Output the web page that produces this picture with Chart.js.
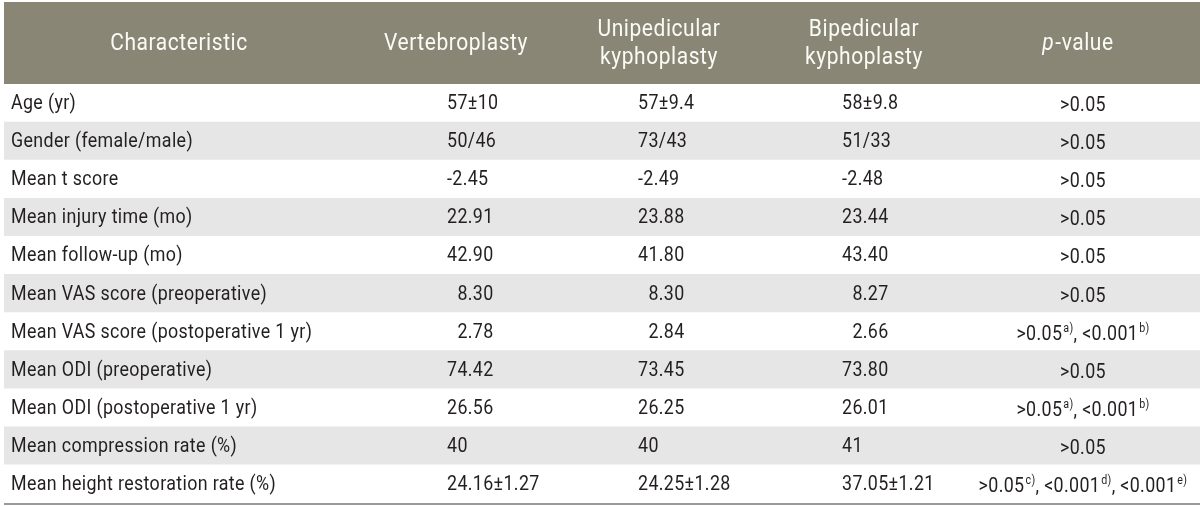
<!DOCTYPE html>
<html>
<head>
<meta charset="utf-8">
<script src="https://cdn.jsdelivr.net/npm/chart.js@4/dist/chart.umd.min.js"></script>
<style>
  html, body { margin: 0; padding: 0; background: #fff; }
  .table-box { position: relative; width: 1200px; height: 506px; }
</style>
</head>
<body>
<div class="table-box"><canvas id="tableChart"></canvas></div>
<script>
// table contents
const characteristics = [
    'Age (yr)',
    'Gender (female/male)',
    'Mean t score',
    'Mean injury time (mo)',
    'Mean follow-up (mo)',
    'Mean VAS score (preoperative)',
    'Mean VAS score (postoperative 1 yr)',
    'Mean ODI (preoperative)',
    'Mean ODI (postoperative 1 yr)',
    'Mean compression rate (%)',
    'Mean height restoration rate (%)'
];
const vertebroplasty = ['57±10', '50/46', '-2.45', '22.91', '42.90', '8.30', '2.78', '74.42', '26.56', '40', '24.16±1.27'];
const unipedicular   = ['57±9.4', '73/43', '-2.49', '23.88', '41.80', '8.30', '2.84', '73.45', '26.25', '40', '24.25±1.28'];
const bipedicular    = ['58±9.8', '51/33', '-2.48', '23.44', '43.40', '8.27', '2.66', '73.80', '26.01', '41', '37.05±1.21'];
// p-values: list of [text, superscript]
const pValues = [
    [['>0.05', '']],
    [['>0.05', '']],
    [['>0.05', '']],
    [['>0.05', '']],
    [['>0.05', '']],
    [['>0.05', '']],
    [['>0.05', 'a)'], [', <0.001', 'b)']],
    [['>0.05', '']],
    [['>0.05', 'a)'], [', <0.001', 'b)']],
    [['>0.05', '']],
    [['>0.05', 'c)'], [', <0.001', 'd)'], [', <0.001', 'e)']]
];
const columnHeaders = [
    ['Characteristic'],
    ['Vertebroplasty'],
    ['Unipedicular', 'kyphoplasty'],
    ['Bipedicular', 'kyphoplasty'],
    ['p-value']
];

// layout (x in table units, 0..1196)
const TABLE_W = 1196;
const colHeadX = [175, 452, 655, 860, 1074];
const colDataX = [7, 443, 634, 838, 1079];
const HEAD_BG = '#8a8675';
const STRIPE = '#e6e6e6';
const INK = '#231f20';
const FONT = 'Roboto, "Liberation Sans", sans-serif';
const BODY = '20px ' + FONT;
const SUP = '12px ' + FONT;
const HEAD = '23px ' + FONT;

// draw text squeezed horizontally (the original uses a condensed face)
function squeezed(ctx, txt, x, y, sx) {
    ctx.save();
    ctx.translate(x, y);
    ctx.scale(sx, 1);
    ctx.fillText(txt, 0, 0);
    ctx.restore();
    return ctx.measureText(txt).width * sx;
}

const tablePlugin = {
    id: 'tableText',
    beforeDatasetsDraw(chart) {
        const { ctx, chartArea } = chart;
        ctx.save();
        ctx.fillStyle = HEAD_BG;
        ctx.fillRect(chartArea.left, 2, chartArea.right - chartArea.left, chartArea.top - 2);
        ctx.restore();
    },
    afterDatasetsDraw(chart) {
        const { ctx, chartArea } = chart;
        const xs = chart.scales.x, ys = chart.scales.y;
        ctx.save();

        // header
        ctx.letterSpacing = '0.6px';
        ctx.font = HEAD;
        const hs = 144 / ctx.measureText('Vertebroplasty').width;
        ctx.fillStyle = '#fbfbf6';
        ctx.textBaseline = 'middle';
        const midHead = (2 + chartArea.top) / 2 + 1;
        columnHeaders.forEach((lines, c) => {
            const x = xs.getPixelForValue(colHeadX[c]);
            lines.forEach((txt, li) => {
                const y = lines.length === 1 ? midHead : midHead + (li - 0.5) * 28;
                if (txt.startsWith('p-')) {
                    ctx.textAlign = 'left';
                    ctx.font = 'italic ' + HEAD;
                    const w1 = ctx.measureText('p').width * hs;
                    ctx.font = HEAD;
                    const w2 = ctx.measureText(txt.slice(1)).width * hs;
                    const sx = x - (w1 + w2 + 1) / 2;
                    ctx.font = 'italic ' + HEAD;
                    squeezed(ctx, 'p', sx, y, hs);
                    ctx.font = HEAD;
                    squeezed(ctx, txt.slice(1), sx + w1 + 1, y, hs);
                } else {
                    ctx.textAlign = 'center';
                    ctx.font = HEAD;
                    squeezed(ctx, txt, x, y, hs);
                }
            });
        });

        // body
        ctx.fillStyle = INK;
        ctx.letterSpacing = '0.4px';
        ctx.font = BODY;
        const bs = 265 / ctx.measureText('Mean height restoration rate (%)').width;
        const digitW = ctx.measureText('0').width * bs;
        characteristics.forEach((label, i) => {
            const y = ys.getPixelForValue(i) + 1;
            ctx.textAlign = 'left';
            ctx.textBaseline = 'middle';
            ctx.font = BODY;
            squeezed(ctx, label, xs.getPixelForValue(colDataX[0]), y, bs);
            [vertebroplasty, unipedicular, bipedicular].forEach((col, c) => {
                const v = col[i];
                const pad = /^\d\./.test(v) ? digitW : 0;
                squeezed(ctx, v, xs.getPixelForValue(colDataX[c + 1]) + pad, y, bs);
            });

            // p-value with superscripts
            const segs = pValues[i];
            let total = 0;
            segs.forEach(([t, s]) => {
                ctx.font = BODY;
                total += ctx.measureText(t).width * bs;
                if (s) { ctx.font = SUP; total += ctx.measureText(s).width * bs + 1; }
            });
            let px = xs.getPixelForValue(colDataX[4]) - total / 2;
            ctx.textBaseline = 'alphabetic';
            const base = y + 7;
            segs.forEach(([t, s]) => {
                ctx.font = BODY;
                px += squeezed(ctx, t, px, base, bs);
                if (s) {
                    ctx.font = SUP;
                    px += squeezed(ctx, s, px + 1, base - 8, bs) + 1;
                }
            });
        });

        // bottom rule
        ctx.strokeStyle = '#9a9a9a';
        ctx.lineWidth = 2;
        ctx.beginPath();
        ctx.moveTo(chartArea.left, chartArea.bottom + 1);
        ctx.lineTo(chartArea.right, chartArea.bottom + 1);
        ctx.stroke();
        ctx.restore();
    }
};

new Chart(document.getElementById('tableChart'), {
    type: 'bar',
    data: {
        labels: characteristics,
        datasets: [{
            label: 'rows',
            data: characteristics.map(() => [0, TABLE_W]),
            backgroundColor: ctx => ctx.dataIndex % 2 ? STRIPE : '#ffffff',
            borderWidth: 0,
            barPercentage: 1,
            categoryPercentage: 1
        }]
    },
    options: {
        indexAxis: 'y',
        responsive: true,
        maintainAspectRatio: false,
        animation: false,
        layout: { padding: { left: 4, right: 0, top: 84, bottom: 3 } },
        plugins: { legend: { display: false }, tooltip: { enabled: false } },
        scales: {
            x: { type: 'linear', min: 0, max: TABLE_W, display: false },
            y: { type: 'category', display: false }
        }
    },
    plugins: [tablePlugin]
});
</script>
</body>
</html>
